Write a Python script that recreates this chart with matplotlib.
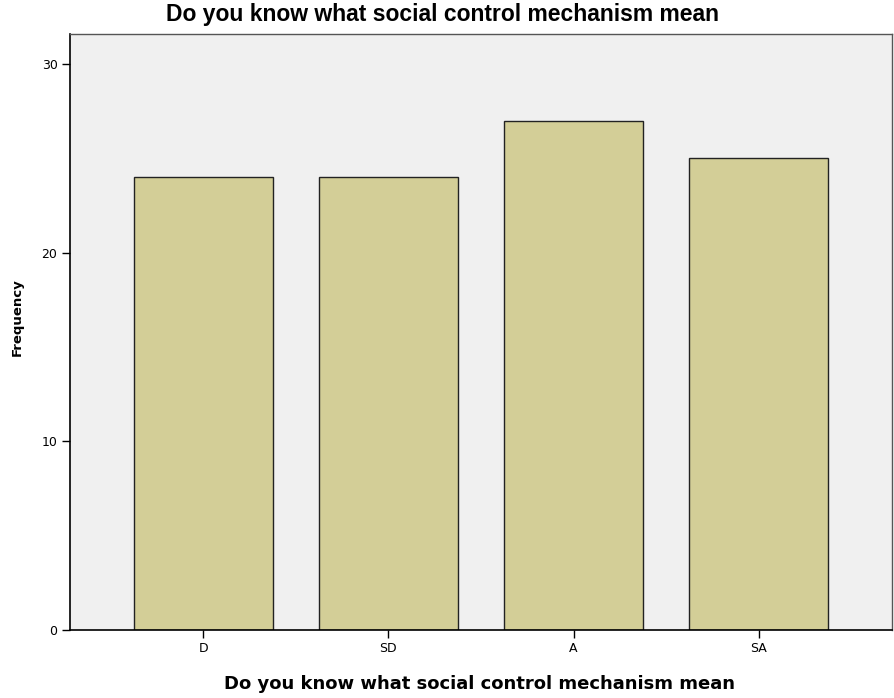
"""SPSS-style frequency bar chart."""
import matplotlib
matplotlib.use("Agg")
import matplotlib.pyplot as plt
import numpy as np

plt.rcParams["font.family"] = ["Liberation Sans", "DejaVu Sans"]

categories = ["D", "SD", "A", "SA"]
frequency = [24, 24, 27, 25]
yticks = [0, 10, 20, 30]
title = "Do you know what social control mechanism mean"

W, H = 894, 698
fig = plt.figure(figsize=(W / 100, H / 100), dpi=100)
left, right, top, bottom = 70, 892, 34, 630
ax = fig.add_axes([left / W, 1 - bottom / H, (right - left) / W, (bottom - top) / H])
ax.set_facecolor("#F0F0F0")

x = np.arange(len(categories))
ax.bar(x, frequency, width=0.75, color="#D3CE97", edgecolor="#222222", linewidth=1.0, zorder=2)

ax.set_xlim(-0.72, len(categories) - 1 + 0.72)
ax.set_ylim(0, 31.6)
ax.set_xticks(x)
ax.set_xticklabels(categories, fontsize=9, family="DejaVu Sans")
ax.set_yticks(yticks)
ax.set_yticklabels([str(t) for t in yticks], fontsize=9, family="DejaVu Sans")
ax.tick_params(direction="out", length=6, width=1, color="black", pad=3)

for side in ("left", "bottom"):
    ax.spines[side].set_color("black")
    ax.spines[side].set_linewidth(1.2)
for side in ("top", "right"):
    ax.spines[side].set_color("#555555")
    ax.spines[side].set_linewidth(1.0)

ax.set_ylabel("Frequency", fontsize=9.5, fontweight="bold", family="DejaVu Sans")
ax.yaxis.set_label_coords(-(left - 17) / (right - left), (bottom - 317) / (bottom - top))
ax.yaxis.label.set_va("center")

ax.set_xlabel(title, fontsize=13, fontweight="bold", family="DejaVu Sans")
ax.xaxis.set_label_coords((480 - left) / (right - left), -(684 - bottom) / (bottom - top))
ax.xaxis.label.set_va("center")

fig.text(442.5 / W, 1 - 15 / H, title, ha="center", va="center",
         fontsize=16.5, fontweight="bold")

fig.savefig("out.png", dpi=100)
